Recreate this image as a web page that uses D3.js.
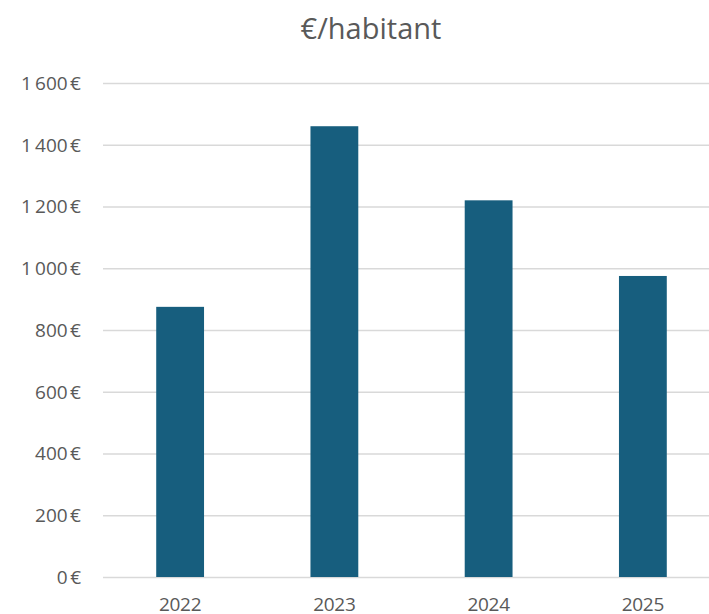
<!DOCTYPE html>
<html>
<head>
<meta charset="utf-8">
<script src="https://cdn.jsdelivr.net/npm/d3@7"></script>
<style>
  body { margin: 0; background: #fff; }
  svg text { font-family: "Open Sans", "Liberation Sans", sans-serif; fill: #595959; }
  .grid line { stroke: #d9d9d9; stroke-width: 1.3; }
  .grid path { display: none; }
</style>
</head>
<body>
<svg id="main" width="709" height="614"></svg>
<script>
const years = ['2022', '2023', '2024', '2025'];
const values = [875, 1460, 1220, 975];
const yTicks = [0, 200, 400, 600, 800, 1000, 1200, 1400, 1600];

const svg = d3.select('svg#main');

const plotLeft = 103, plotRight = 720; // plot runs past the right edge, like the source
const plotTop = 83, plotBottom = 577;

const xScale = d3.scaleBand()
  .range([plotLeft, plotRight])
  .domain(years)
  .paddingInner(0.69)
  .paddingOuter(0.345);

const yScale = d3.scaleLinear()
  .range([plotBottom, plotTop])
  .domain([0, 1600]);

const fmt = v => d3.format(',')(v).replace(',', '\u2009') + '\u202f€';

// horizontal grid lines
svg.append('g')
  .attr('class', 'grid')
  .attr('transform', `translate(${plotLeft}, 0)`)
  .call(d3.axisLeft(yScale)
    .tickValues(yTicks)
    .tickSize(-(709 - plotLeft))
    .tickFormat(''));

// y labels
svg.append('g')
  .selectAll('text')
  .data(yTicks)
  .enter()
  .append('text')
  .attr('x', 81)
  .attr('y', d => yScale(d))
  .attr('dy', '0.36em')
  .attr('text-anchor', 'end')
  .style('font-size', '19px')
  .style('letter-spacing', '-0.5px')
  .text(fmt);

// bars
svg.append('g')
  .selectAll('rect')
  .data(values)
  .enter()
  .append('rect')
  .attr('x', (d, i) => xScale(years[i]))
  .attr('y', d => yScale(d))
  .attr('width', xScale.bandwidth())
  .attr('height', d => yScale(0) - yScale(d))
  .attr('fill', '#175e7e');

// x labels
svg.append('g')
  .selectAll('text')
  .data(years)
  .enter()
  .append('text')
  .attr('x', d => xScale(d) + xScale.bandwidth() / 2)
  .attr('y', 611)
  .attr('text-anchor', 'middle')
  .style('font-size', '19px')
  .style('letter-spacing', '-0.3px')
  .text(d => d);

svg.append('text')
  .attr('x', 371)
  .attr('y', 39)
  .attr('text-anchor', 'middle')
  .style('font-size', '29px')
  .style('font-weight', 500)
  .text('€/habitant');
</script>
</body>
</html>
